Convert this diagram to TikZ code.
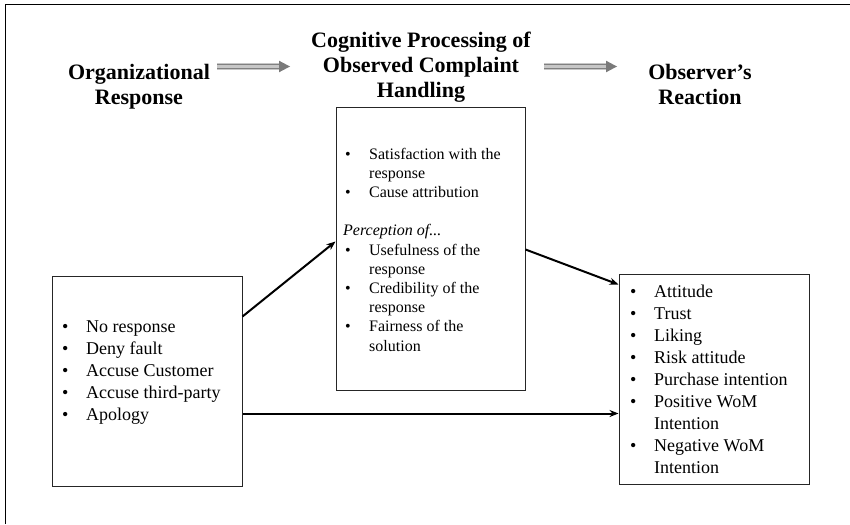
\documentclass[tikz,border=0pt]{standalone}
\usepackage{fontspec}
\setmainfont{Liberation Serif}
\usetikzlibrary{arrows.meta}
\newcommand\bl[1]{\makebox[24pt][l]{•}#1\par}
\newcommand\cl[1]{\hspace*{24pt}#1\par}
\newcommand\fatarrow[2]{%
  \fill[black!22] (#1,#2-3.5) rectangle (#1+63,#2+3.5);
  \draw[black!50,line width=1pt] (#1,#2-1.8) -- (#1+63,#2-1.8);
  \draw[black!50,line width=1pt] (#1,#2+1.6) -- (#1+63,#2+1.6);
  \fill[black!52] (#1+62,#2-5.8) -- (#1+73,#2) -- (#1+62,#2+5.8) -- cycle;}
\begin{document}
\begin{tikzpicture}[x=1pt,y=-1pt,
  box/.style={draw=black!85,line width=1pt,rectangle,inner sep=0pt},
  head/.style={anchor=base,inner sep=0pt,font=\fontsize{22}{25}\selectfont\bfseries},
  body/.style={anchor=base west,inner sep=0pt},
  conn/.style={line width=2pt,-{Stealth[length=9pt,width=7pt]}}]
\useasboundingbox (0,0) rectangle (850,524);
\draw[line width=1pt] (5,524) -- (5,5) -- (850,5);

% headers
\node[head] (h1) at (139,80) {\begin{minipage}[t]{200pt}\centering Organizational\\Response\end{minipage}};
\node[head] (h2) at (421,48) {\begin{minipage}[t]{260pt}\centering Cognitive Processing of\\Observed Complaint\\Handling\end{minipage}};
\node[head] (h3) at (700,80) {\begin{minipage}[t]{200pt}\centering Observer’s\\Reaction\end{minipage}};
\fatarrow{217}{66.5}
\fatarrow{544}{66.5}

% boxes
\node[box,minimum width=190pt,minimum height=210pt] (org) at (147,381) {};
\node[box,minimum width=189pt,minimum height=282pt] (mid) at (430.5,249) {};
\node[box,minimum width=190pt,minimum height=210pt] (resp) at (714,379) {};

\node[body] (orgtext) at (62,332) {\begin{minipage}[t]{175pt}\fontsize{18}{22}\selectfont\setlength\parindent{0pt}%
\bl{No response}\bl{Deny fault}\bl{Accuse Customer}\bl{Accuse third-party}\bl{Apology}\end{minipage}};

\node[body] (midtext) at (345,159) {\begin{minipage}[t]{175pt}\fontsize{16}{19.2}\selectfont\setlength\parindent{0pt}%
\bl{Satisfaction with the}\cl{response}\bl{Cause attribution}\mbox{}\par
\hspace*{-2pt}\textit{Perception of...}\par
\bl{Usefulness of the}\cl{response}\bl{Credibility of the}\cl{response}\bl{Fairness of the}\cl{solution}\end{minipage}};

\node[body] (resptext) at (630,297) {\begin{minipage}[t]{175pt}\fontsize{18}{22}\selectfont\setlength\parindent{0pt}%
\bl{Attitude}\bl{Trust}\bl{Liking}\bl{Risk attitude}\bl{Purchase intention}\bl{Positive WoM}\cl{Intention}\bl{Negative WoM}\cl{Intention}\end{minipage}};

% connectors
\draw[conn] ([yshift=-41pt]org.north east) -- ([yshift=-134pt]mid.north west);
\draw[conn] ([yshift=-142pt]mid.north east) -- ([yshift=-11pt]resp.north west);
\draw[conn] ([yshift=-138pt]org.north east) -- ([yshift=-140pt]resp.north west);
\end{tikzpicture}
\end{document}
